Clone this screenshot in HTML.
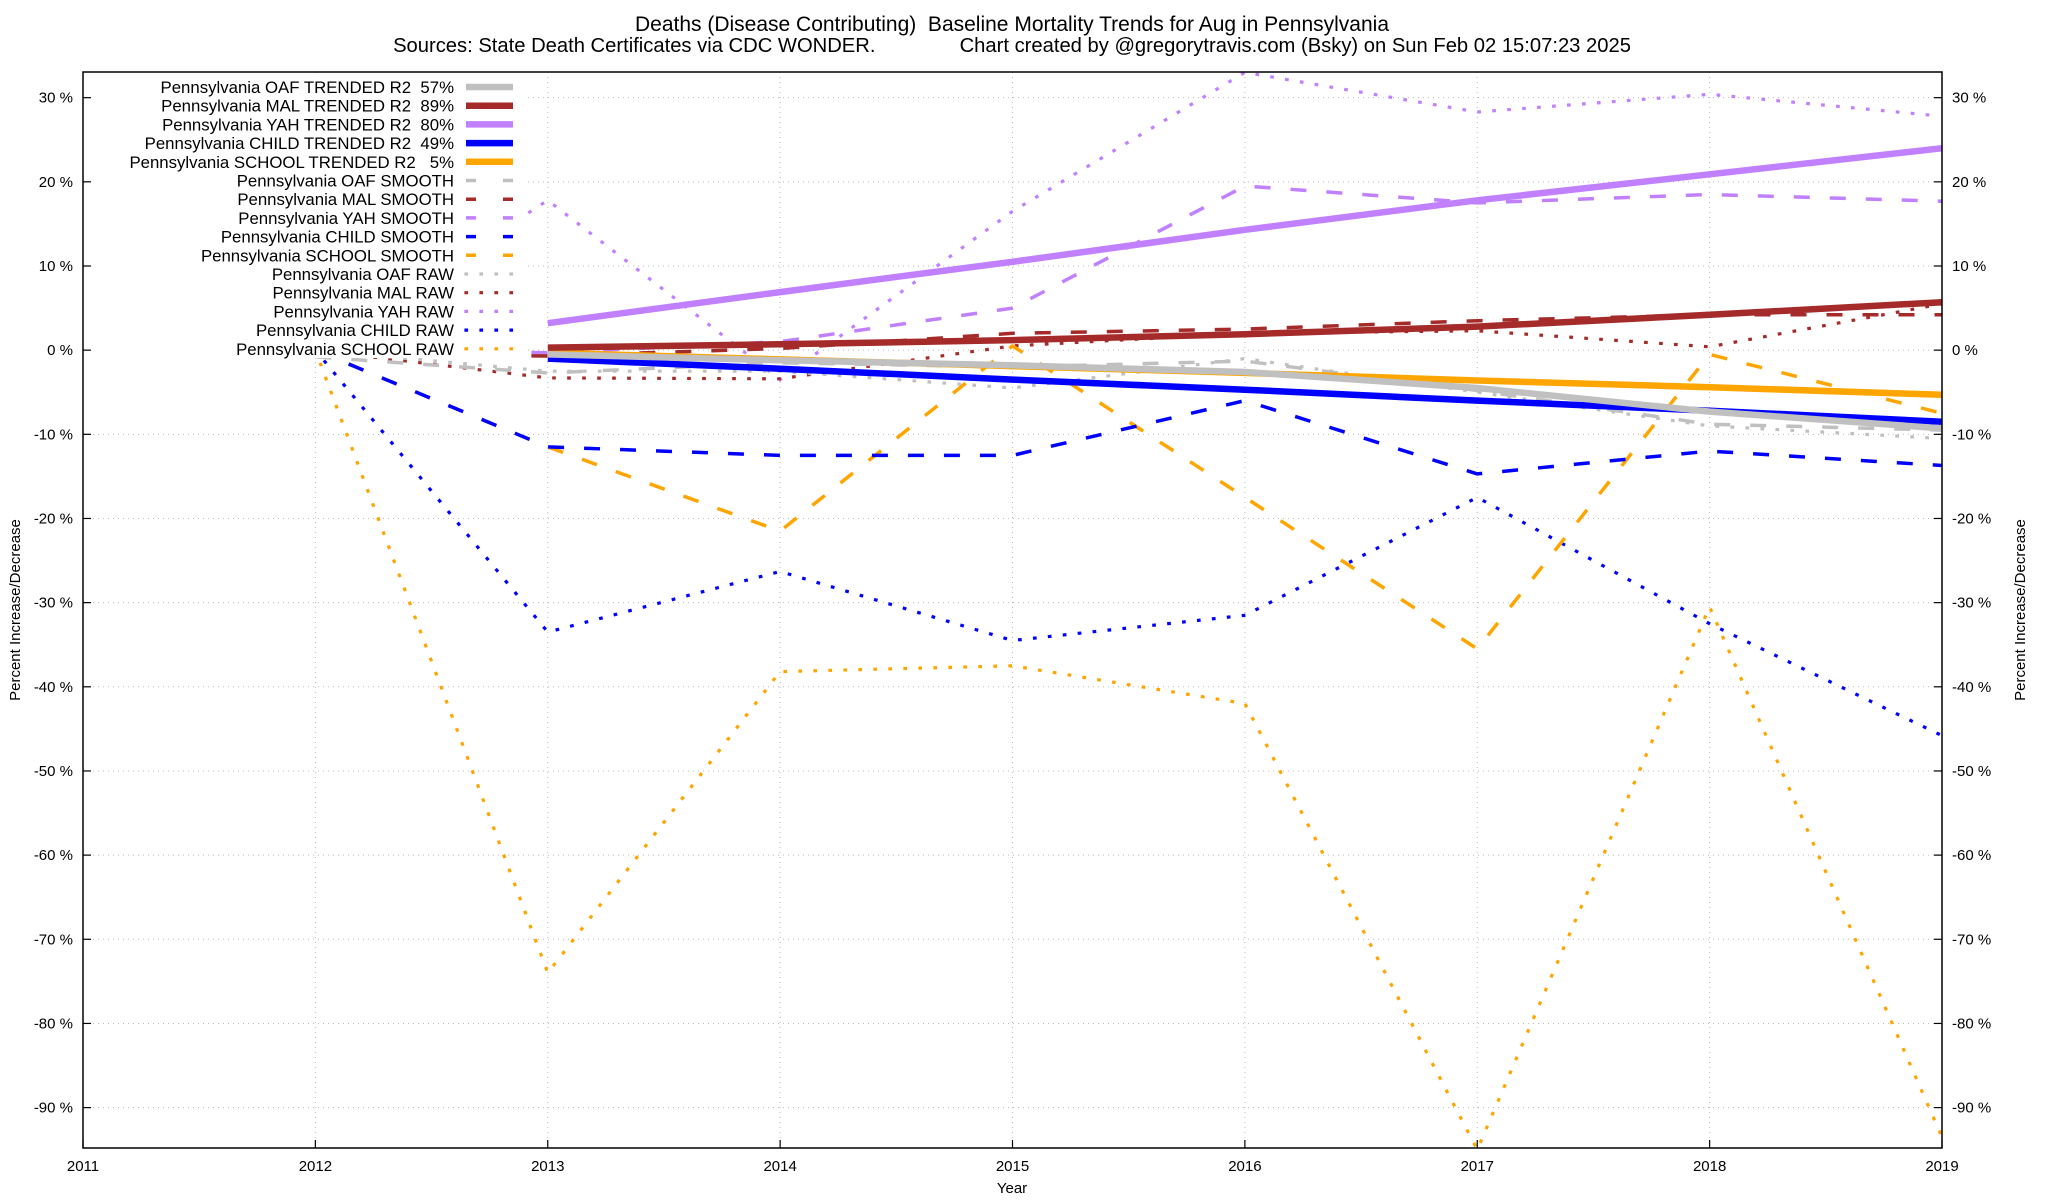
<!DOCTYPE html>
<html><head><meta charset="utf-8"><style>
html,body{margin:0;padding:0;background:#fff;}
svg{display:block;font-family:"Liberation Sans",Arial,sans-serif;}
text{white-space:pre;}
</style></head><body>
<svg id="chart" width="2048" height="1200" viewBox="0 0 2048 1200" xmlns="http://www.w3.org/2000/svg">
<text x="1012" y="31" font-size="21" text-anchor="middle">Deaths (Disease Contributing)  Baseline Mortality Trends for Aug in Pennsylvania</text>
<text x="1012" y="52" font-size="20.2" text-anchor="middle">Sources: State Death Certificates via CDC WONDER.               Chart created by @gregorytravis.com (Bsky) on Sun Feb 02 15:07:23 2025</text>
<g id="grid"></g>
<defs><clipPath id="clip"><rect x="83" y="72" width="1859" height="1076"/></clipPath></defs>
<g id="series" clip-path="url(#clip)"></g>
<rect x="84" y="73" width="440" height="285" fill="#fff"/>
<rect x="83" y="72" width="1859" height="1076" fill="none" stroke="#000" stroke-width="1.5"/>
<g id="axes"></g>
<g id="legend"></g>
<text x="1012" y="1193" font-size="15" text-anchor="middle">Year</text>
<text transform="translate(20,610) rotate(-90)" font-size="15" text-anchor="middle">Percent Increase/Decrease</text>
<text transform="translate(2025,610) rotate(-90)" font-size="15" text-anchor="middle">Percent Increase/Decrease</text>
</svg>
<script>
const years = [2012,2013,2014,2015,2016,2017,2018,2019];
const trendYears = [2013,2014,2015,2016,2017,2018,2019];
const xTicks = [2011,2012,2013,2014,2015,2016,2017,2018,2019];
const yTicks = [30,20,10,0,-10,-20,-30,-40,-50,-60,-70,-80,-90];
const oafTrend = [-0.5,-1.2,-1.8,-2.6,-4.5,-7.3,-9.3];
const malTrend = [0.3,0.7,1.2,1.9,2.8,4.2,5.7];
const yahTrend = [3.2,6.9,10.5,14.3,17.8,20.9,24.0];
const childTrend = [-1.0,-2.2,-3.5,-4.7,-6.0,-7.2,-8.5];
const schoolTrend = [-0.3,-1.1,-1.9,-2.7,-3.6,-4.4,-5.3];
const oafSmooth = [-0.8,-2.7,-1.5,-2.0,-1.3,-4.8,-8.8,-9.5];
const malSmooth = [-0.5,-0.7,0.2,2.0,2.5,3.5,4.2,4.2];
const yahSmooth = [0,-0.3,1.0,5.0,19.5,17.5,18.5,17.7];
const childSmooth = [0,-11.5,-12.5,-12.5,-6.0,-14.7,-12.0,-13.7];
const schoolSmooth = [0,-11.5,-21.5,0.5,-17.5,-35.5,-0.5,-7.5];
const oafRaw = [0,-2.5,-2.5,-4.5,-1.0,-5.0,-9.0,-10.5];
const malRaw = [0,-3.3,-3.4,0.5,2.0,2.3,0.4,5.5];
const yahRaw = [0,17.8,-3.5,16.5,33.0,28.3,30.4,27.8];
const childRaw = [0,-33.5,-26.3,-34.5,-31.5,-17.5,-32.5,-45.8];
const schoolRaw = [0,-74.0,-38.2,-37.5,-42.0,-95.0,-30.5,-93.5];

const NS="http://www.w3.org/2000/svg";
const X0=83, X1=1942, Y0=1148, Y1=72, XMIN=2011, XMAX=2019, VMIN=-94.8, VMAX=33.05;
function xs(yr){return X0+(yr-XMIN)/(XMAX-XMIN)*(X1-X0);}
function ys(v){return Y0-(v-VMIN)/(VMAX-VMIN)*(Y0-Y1);}
function mk(tag,attrs,parent){const e=document.createElementNS(NS,tag);for(const k in attrs)e.setAttribute(k,attrs[k]);parent.appendChild(e);return e;}

const grid=document.getElementById('grid'), axes=document.getElementById('axes');
xTicks.forEach(t=>{
  const x=xs(t);
  if(t>XMIN&&t<XMAX){const g=mk('line',{x1:x,x2:x,y1:Y1,y2:Y0,stroke:'#bbb','stroke-width':1,'stroke-dasharray':'1 4'},grid);
  
  }
  const tk=mk('line',{x1:x,x2:x,y1:Y0,y2:Y0-8,stroke:'#000','stroke-width':1.2},axes);
  
  
  const lb=mk('text',{x:x,y:Y0+23,'font-size':15,'text-anchor':'middle'},axes);
  lb.textContent=t;
  
  
});
yTicks.forEach(t=>{
  const y=ys(t);
  const g=mk('line',{x1:X0,x2:X1,y1:y,y2:y,stroke:'#bbb','stroke-width':1,'stroke-dasharray':'1 4'},grid);
  
  
  const t1=mk('line',{x1:X0,x2:X0+8,y1:y,y2:y,stroke:'#000','stroke-width':1.2},axes);
  
  
  const t2=mk('line',{x1:X1-8,x2:X1,y1:y,y2:y,stroke:'#000','stroke-width':1.2},axes);
  
  
  const l1=mk('text',{x:73,y:y+5,'font-size':15,'text-anchor':'end'},axes);
  l1.textContent=t+' %';
  
  
  const l2=mk('text',{x:1952,y:y+5,'font-size':15},axes);
  l2.textContent=t+' %';
  
  
});

const C={oaf:'#c0c0c0',mal:'#a52a2a',yah:'#c080ff',child:'#0000ff',school:'#ffa500'};
const ST={trend:{w:6.5,d:''},smooth:{w:3.5,d:'16 20'},raw:{w:3.2,d:'0.5 14.5'}};
const seriesList=[
 ['Pennsylvania OAF TRENDED R2  57%','oaf','trend',trendYears,oafTrend],
 ['Pennsylvania MAL TRENDED R2  89%','mal','trend',trendYears,malTrend],
 ['Pennsylvania YAH TRENDED R2  80%','yah','trend',trendYears,yahTrend],
 ['Pennsylvania CHILD TRENDED R2  49%','child','trend',trendYears,childTrend],
 ['Pennsylvania SCHOOL TRENDED R2   5%','school','trend',trendYears,schoolTrend],
 ['Pennsylvania OAF SMOOTH','oaf','smooth',years,oafSmooth],
 ['Pennsylvania MAL SMOOTH','mal','smooth',years,malSmooth],
 ['Pennsylvania YAH SMOOTH','yah','smooth',years,yahSmooth],
 ['Pennsylvania CHILD SMOOTH','child','smooth',years,childSmooth],
 ['Pennsylvania SCHOOL SMOOTH','school','smooth',years,schoolSmooth],
 ['Pennsylvania OAF RAW','oaf','raw',years,oafRaw],
 ['Pennsylvania MAL RAW','mal','raw',years,malRaw],
 ['Pennsylvania YAH RAW','yah','raw',years,yahRaw],
 ['Pennsylvania CHILD RAW','child','raw',years,childRaw],
 ['Pennsylvania SCHOOL RAW','school','raw',years,schoolRaw]
];
const sg=document.getElementById('series'), lg=document.getElementById('legend');
[...seriesList].reverse().forEach(s=>{
  const [name,c,kind,xsArr,vals]=s;
  const pts=vals.map((v,i)=>xs(xsArr[i]).toFixed(1)+','+ys(v).toFixed(1)).join(' ');
  const p=mk('polyline',{points:pts,fill:'none',stroke:C[c],'stroke-width':ST[kind].w,'stroke-linecap':kind==='raw'?'square':'butt','stroke-linejoin':'round'},sg);
  if(ST[kind].d)p.setAttribute('stroke-dasharray',ST[kind].d);
  
  
});
seriesList.forEach((s,i)=>{
  const [name,c,kind]=s;
  const y=87+i*18.7;
  const t=mk('text',{x:454,y:y+6,'font-size':16.8,'text-anchor':'end'},lg);
  t.textContent=name;
  
  
  const l=mk('line',{x1:466,x2:513,y1:y,y2:y,stroke:C[c],'stroke-width':ST[kind].w,'stroke-linecap':kind==='raw'?'square':'butt'},lg);
  if(kind==='smooth')l.setAttribute('stroke-dasharray','10 27');
  if(kind==='raw')l.setAttribute('stroke-dasharray','0.5 14.5');
  
  
});
</script>
</body></html>
